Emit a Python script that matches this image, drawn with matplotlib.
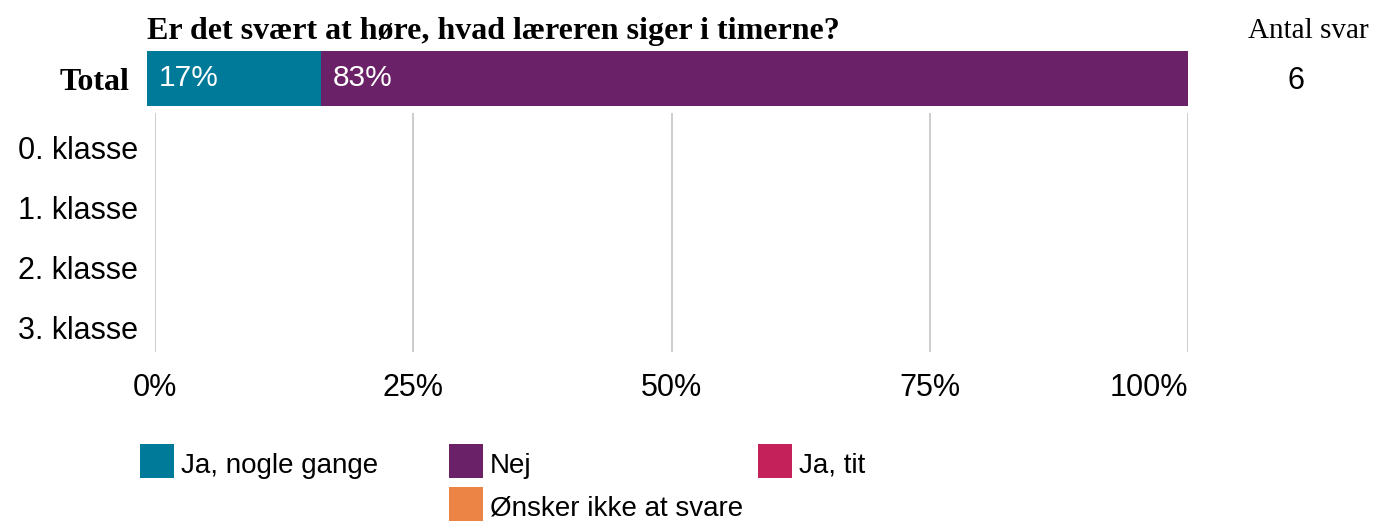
import matplotlib.pyplot as plt
from matplotlib.patches import Rectangle
import numpy as np

W, H = 1393, 521

title = "Er det svært at høre, hvad læreren siger i timerne?"
answers = ["Ja, nogle gange", "Nej", "Ja, tit", "Ønsker ikke at svare"]
colors = ["#007a99", "#6a2168", "#c42059", "#eb8445"]
total_counts = [1, 5, 0, 0]
classes = ["0. klasse", "1. klasse", "2. klasse", "3. klasse"]
class_counts = [[0, 0, 0, 0] for _ in classes]  # ingen svar pr. klasse
tick_values = [0, 25, 50, 75, 100]
tick_labels = ["0%", "25%", "50%", "75%", "100%"]

SANS = "Liberation Sans"
SERIF = "Liberation Serif"


def px_axes(fig, left, top, right, bottom):
    return fig.add_axes([left / W, 1 - bottom / H, (right - left) / W, (bottom - top) / H])


def fy(y):
    return 1 - y / H


fig = plt.figure(figsize=(W / 100, H / 100), dpi=100)

# total bar
axt = px_axes(fig, 147, 51, 1188, 106)
pct = np.array(total_counts) / sum(total_counts) * 100
left = 0
for p, c in zip(pct, colors):
    if p > 0:
        axt.barh(0, p, left=left, height=1, color=c, linewidth=0)
        axt.annotate(f"{p:.0f}%", (left, 0), xytext=(12, 0), textcoords="offset pixels",
                     ha="left", va="center", color="white", fontsize=21.5, family=SANS)
    left += p
axt.set_xlim(0, 100)
axt.set_ylim(-0.5, 0.5)
axt.set_xticks([])
axt.set_yticks([0], ["Total"])
axt.tick_params(axis="y", length=0, pad=13)
for lab in axt.get_yticklabels():
    lab.set_fontfamily(SERIF)
    lab.set_fontweight("bold")
    lab.set_fontsize(23)
for s in axt.spines.values():
    s.set_visible(False)

# class bars
ax = px_axes(fig, 155, 113, 1188, 352)
y = np.arange(len(classes))
for i, counts in enumerate(class_counts):
    tot = sum(counts)
    left = 0
    for v, c in zip(counts, colors):
        w = v / tot * 100 if tot else 0
        ax.barh(i, w, left=left, height=0.8, color=c, linewidth=0)
        left += w
ax.set_xlim(0, 100)
ax.set_ylim(3.417, -0.583)
ax.set_yticks(y, classes)
ax.set_xticks(tick_values, tick_labels)
ax.grid(axis="x", color="#c8c8c8", linewidth=1.3)
ax.set_axisbelow(True)
ax.tick_params(axis="both", length=0, labelsize=22)
ax.tick_params(axis="x", pad=15)
ax.tick_params(axis="y", pad=12)
for lab in ax.get_xticklabels() + ax.get_yticklabels():
    lab.set_fontfamily(SANS)
ax.get_xticklabels()[-1].set_ha("right")
for s in ax.spines.values():
    s.set_visible(False)

# texts
fig.text(147 / W, fy(39), title, ha="left", va="baseline", family=SERIF,
         fontweight="bold", fontsize=23)
fig.text(1308 / W, fy(38), "Antal svar", ha="center", va="baseline", family=SERIF, fontsize=21)
fig.text(1296 / W, fy(81), str(sum(total_counts)), ha="center", va="center",
         family=SANS, fontsize=22)

# legend
slots = [(0, 0), (1, 0), (2, 0), (1, 1)]
for (col, row), name, c in zip(slots, answers, colors):
    x0 = 140 + 309 * col
    y0 = 444 + 43 * row
    fig.add_artist(Rectangle((x0 / W, fy(y0 + 34)), 34 / W, 34 / H,
                             transform=fig.transFigure, color=c, linewidth=0))
    fig.text((x0 + 41) / W, fy(y0 + 29), name, ha="left", va="baseline",
             family=SANS, fontsize=20)

fig.savefig("out.png", dpi=100)
